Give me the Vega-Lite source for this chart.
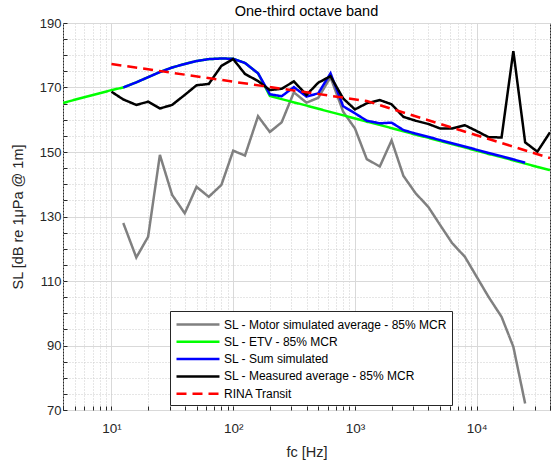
{
  "$schema": "https://vega.github.io/schema/vega-lite/v6.json",
  "autosize": {"type": "none"},
  "padding": {"left": 63, "top": 23, "right": 1, "bottom": 59},
  "width": 487,
  "height": 387,
  "background": "white",
  "title": {"text": "One-third octave band", "fontSize": 14.5, "fontWeight": "normal", "font": "Liberation Sans", "color": "#000000", "offset": -2, "frame": "group"},
  "config": {
    "view": {"stroke": "#262626", "strokeWidth": 1},
    "font": "Liberation Sans",
    "legend": {"orient": "none", "legendX": 107, "legendY": 288, "fillColor": "white", "strokeColor": "#262626", "padding": 5, "symbolType": "M-1,0H5.14", "symbolSize": 196, "symbolStrokeWidth": 2.5, "labelFontSize": 12, "labelColor": "#000000", "labelLimit": 400, "rowPadding": 2.3, "labelOffset": 32, "labelFont": "Liberation Sans"}
  },
  "data": {"values": [
    {"f": 12.5, "SL": 128, "s": "SL - Motor simulated average - 85% MCR"},
    {"f": 16, "SL": 117.3, "s": "SL - Motor simulated average - 85% MCR"},
    {"f": 20, "SL": 123.7, "s": "SL - Motor simulated average - 85% MCR"},
    {"f": 25, "SL": 149.1, "s": "SL - Motor simulated average - 85% MCR"},
    {"f": 31.5, "SL": 136.7, "s": "SL - Motor simulated average - 85% MCR"},
    {"f": 40, "SL": 131, "s": "SL - Motor simulated average - 85% MCR"},
    {"f": 50, "SL": 139.2, "s": "SL - Motor simulated average - 85% MCR"},
    {"f": 63, "SL": 136.1, "s": "SL - Motor simulated average - 85% MCR"},
    {"f": 80, "SL": 139.8, "s": "SL - Motor simulated average - 85% MCR"},
    {"f": 100, "SL": 150.4, "s": "SL - Motor simulated average - 85% MCR"},
    {"f": 125, "SL": 148.9, "s": "SL - Motor simulated average - 85% MCR"},
    {"f": 160, "SL": 161.1, "s": "SL - Motor simulated average - 85% MCR"},
    {"f": 200, "SL": 156.2, "s": "SL - Motor simulated average - 85% MCR"},
    {"f": 250, "SL": 159.2, "s": "SL - Motor simulated average - 85% MCR"},
    {"f": 315, "SL": 168.5, "s": "SL - Motor simulated average - 85% MCR"},
    {"f": 400, "SL": 165.3, "s": "SL - Motor simulated average - 85% MCR"},
    {"f": 500, "SL": 166.8, "s": "SL - Motor simulated average - 85% MCR"},
    {"f": 630, "SL": 173.2, "s": "SL - Motor simulated average - 85% MCR"},
    {"f": 800, "SL": 162.5, "s": "SL - Motor simulated average - 85% MCR"},
    {"f": 1000, "SL": 157.3, "s": "SL - Motor simulated average - 85% MCR"},
    {"f": 1250, "SL": 147.8, "s": "SL - Motor simulated average - 85% MCR"},
    {"f": 1600, "SL": 145.5, "s": "SL - Motor simulated average - 85% MCR"},
    {"f": 2000, "SL": 153.6, "s": "SL - Motor simulated average - 85% MCR"},
    {"f": 2500, "SL": 142.6, "s": "SL - Motor simulated average - 85% MCR"},
    {"f": 3150, "SL": 137.2, "s": "SL - Motor simulated average - 85% MCR"},
    {"f": 4000, "SL": 133, "s": "SL - Motor simulated average - 85% MCR"},
    {"f": 5000, "SL": 127.4, "s": "SL - Motor simulated average - 85% MCR"},
    {"f": 6300, "SL": 121.7, "s": "SL - Motor simulated average - 85% MCR"},
    {"f": 8000, "SL": 117.5, "s": "SL - Motor simulated average - 85% MCR"},
    {"f": 10000, "SL": 111.3, "s": "SL - Motor simulated average - 85% MCR"},
    {"f": 12500, "SL": 105.1, "s": "SL - Motor simulated average - 85% MCR"},
    {"f": 16000, "SL": 98.9, "s": "SL - Motor simulated average - 85% MCR"},
    {"f": 20000, "SL": 89.6, "s": "SL - Motor simulated average - 85% MCR"},
    {"f": 25000, "SL": 72, "s": "SL - Motor simulated average - 85% MCR"},

    {"f": 4, "SL": 165.2, "s": "SL - ETV - 85% MCR"},
    {"f": 5, "SL": 166.2, "s": "SL - ETV - 85% MCR"},
    {"f": 6.3, "SL": 167.2, "s": "SL - ETV - 85% MCR"},
    {"f": 8, "SL": 168.2, "s": "SL - ETV - 85% MCR"},
    {"f": 10, "SL": 169.2, "s": "SL - ETV - 85% MCR"},
    {"f": 12.5, "SL": 170, "s": "SL - ETV - 85% MCR"},
    {"f": 16, "SL": 171.6, "s": "SL - ETV - 85% MCR"},
    {"f": 20, "SL": 173.2, "s": "SL - ETV - 85% MCR"},
    {"f": 25, "SL": 174.8, "s": "SL - ETV - 85% MCR"},
    {"f": 31.5, "SL": 176.2, "s": "SL - ETV - 85% MCR"},
    {"f": 40, "SL": 177.3, "s": "SL - ETV - 85% MCR"},
    {"f": 50, "SL": 178.2, "s": "SL - ETV - 85% MCR"},
    {"f": 63, "SL": 178.8, "s": "SL - ETV - 85% MCR"},
    {"f": 80, "SL": 179, "s": "SL - ETV - 85% MCR"},
    {"f": 100, "SL": 178.9, "s": "SL - ETV - 85% MCR"},
    {"f": 125, "SL": 177.6, "s": "SL - ETV - 85% MCR"},
    {"f": 160, "SL": 174.4, "s": "SL - ETV - 85% MCR"},
    {"f": 200, "SL": 167.4, "s": "SL - ETV - 85% MCR"},
    {"f": 250, "SL": 166.4, "s": "SL - ETV - 85% MCR"},
    {"f": 315, "SL": 165.4, "s": "SL - ETV - 85% MCR"},
    {"f": 400, "SL": 164.4, "s": "SL - ETV - 85% MCR"},
    {"f": 500, "SL": 163.4, "s": "SL - ETV - 85% MCR"},
    {"f": 630, "SL": 162.4, "s": "SL - ETV - 85% MCR"},
    {"f": 800, "SL": 161.4, "s": "SL - ETV - 85% MCR"},
    {"f": 1000, "SL": 160.4, "s": "SL - ETV - 85% MCR"},
    {"f": 1250, "SL": 159.4, "s": "SL - ETV - 85% MCR"},
    {"f": 1600, "SL": 158.4, "s": "SL - ETV - 85% MCR"},
    {"f": 2000, "SL": 157.4, "s": "SL - ETV - 85% MCR"},
    {"f": 2500, "SL": 156.4, "s": "SL - ETV - 85% MCR"},
    {"f": 3150, "SL": 155.4, "s": "SL - ETV - 85% MCR"},
    {"f": 4000, "SL": 154.4, "s": "SL - ETV - 85% MCR"},
    {"f": 5000, "SL": 153.4, "s": "SL - ETV - 85% MCR"},
    {"f": 6300, "SL": 152.4, "s": "SL - ETV - 85% MCR"},
    {"f": 8000, "SL": 151.4, "s": "SL - ETV - 85% MCR"},
    {"f": 10000, "SL": 150.4, "s": "SL - ETV - 85% MCR"},
    {"f": 12500, "SL": 149.4, "s": "SL - ETV - 85% MCR"},
    {"f": 16000, "SL": 148.4, "s": "SL - ETV - 85% MCR"},
    {"f": 20000, "SL": 147.4, "s": "SL - ETV - 85% MCR"},
    {"f": 25000, "SL": 146.4, "s": "SL - ETV - 85% MCR"},
    {"f": 31500, "SL": 145.4, "s": "SL - ETV - 85% MCR"},
    {"f": 40000, "SL": 144.4, "s": "SL - ETV - 85% MCR"},

    {"f": 12.5, "SL": 170, "s": "SL - Sum simulated"},
    {"f": 16, "SL": 171.6, "s": "SL - Sum simulated"},
    {"f": 20, "SL": 173.2, "s": "SL - Sum simulated"},
    {"f": 25, "SL": 174.8, "s": "SL - Sum simulated"},
    {"f": 31.5, "SL": 176.2, "s": "SL - Sum simulated"},
    {"f": 40, "SL": 177.3, "s": "SL - Sum simulated"},
    {"f": 50, "SL": 178.2, "s": "SL - Sum simulated"},
    {"f": 63, "SL": 178.8, "s": "SL - Sum simulated"},
    {"f": 80, "SL": 179, "s": "SL - Sum simulated"},
    {"f": 100, "SL": 178.9, "s": "SL - Sum simulated"},
    {"f": 125, "SL": 177.6, "s": "SL - Sum simulated"},
    {"f": 160, "SL": 174.4, "s": "SL - Sum simulated"},
    {"f": 200, "SL": 167.9, "s": "SL - Sum simulated"},
    {"f": 250, "SL": 167.3, "s": "SL - Sum simulated"},
    {"f": 315, "SL": 170.1, "s": "SL - Sum simulated"},
    {"f": 400, "SL": 167.2, "s": "SL - Sum simulated"},
    {"f": 500, "SL": 168.2, "s": "SL - Sum simulated"},
    {"f": 630, "SL": 174.4, "s": "SL - Sum simulated"},
    {"f": 800, "SL": 164.2, "s": "SL - Sum simulated"},
    {"f": 1000, "SL": 162, "s": "SL - Sum simulated"},
    {"f": 1250, "SL": 159.7, "s": "SL - Sum simulated"},
    {"f": 1600, "SL": 158.9, "s": "SL - Sum simulated"},
    {"f": 2000, "SL": 159.1, "s": "SL - Sum simulated"},
    {"f": 2500, "SL": 156.8, "s": "SL - Sum simulated"},
    {"f": 3150, "SL": 155.7, "s": "SL - Sum simulated"},
    {"f": 4000, "SL": 154.7, "s": "SL - Sum simulated"},
    {"f": 5000, "SL": 153.7, "s": "SL - Sum simulated"},
    {"f": 6300, "SL": 152.7, "s": "SL - Sum simulated"},
    {"f": 8000, "SL": 151.7, "s": "SL - Sum simulated"},
    {"f": 10000, "SL": 150.7, "s": "SL - Sum simulated"},
    {"f": 12500, "SL": 149.7, "s": "SL - Sum simulated"},
    {"f": 16000, "SL": 148.7, "s": "SL - Sum simulated"},
    {"f": 20000, "SL": 147.7, "s": "SL - Sum simulated"},
    {"f": 25000, "SL": 146.7, "s": "SL - Sum simulated"},

    {"f": 10, "SL": 168.7, "s": "SL - Measured average - 85% MCR"},
    {"f": 12.5, "SL": 166.3, "s": "SL - Measured average - 85% MCR"},
    {"f": 16, "SL": 164.6, "s": "SL - Measured average - 85% MCR"},
    {"f": 20, "SL": 165.6, "s": "SL - Measured average - 85% MCR"},
    {"f": 25, "SL": 163.5, "s": "SL - Measured average - 85% MCR"},
    {"f": 31.5, "SL": 164.6, "s": "SL - Measured average - 85% MCR"},
    {"f": 40, "SL": 167.7, "s": "SL - Measured average - 85% MCR"},
    {"f": 50, "SL": 170.7, "s": "SL - Measured average - 85% MCR"},
    {"f": 63, "SL": 171.1, "s": "SL - Measured average - 85% MCR"},
    {"f": 80, "SL": 176.7, "s": "SL - Measured average - 85% MCR"},
    {"f": 100, "SL": 178.8, "s": "SL - Measured average - 85% MCR"},
    {"f": 125, "SL": 174.2, "s": "SL - Measured average - 85% MCR"},
    {"f": 160, "SL": 172, "s": "SL - Measured average - 85% MCR"},
    {"f": 200, "SL": 169.2, "s": "SL - Measured average - 85% MCR"},
    {"f": 250, "SL": 169.6, "s": "SL - Measured average - 85% MCR"},
    {"f": 315, "SL": 171.9, "s": "SL - Measured average - 85% MCR"},
    {"f": 400, "SL": 167.7, "s": "SL - Measured average - 85% MCR"},
    {"f": 500, "SL": 171.5, "s": "SL - Measured average - 85% MCR"},
    {"f": 630, "SL": 173.5, "s": "SL - Measured average - 85% MCR"},
    {"f": 800, "SL": 166.6, "s": "SL - Measured average - 85% MCR"},
    {"f": 1000, "SL": 163.2, "s": "SL - Measured average - 85% MCR"},
    {"f": 1250, "SL": 165.1, "s": "SL - Measured average - 85% MCR"},
    {"f": 1600, "SL": 166.1, "s": "SL - Measured average - 85% MCR"},
    {"f": 2000, "SL": 164.8, "s": "SL - Measured average - 85% MCR"},
    {"f": 2500, "SL": 160.9, "s": "SL - Measured average - 85% MCR"},
    {"f": 3150, "SL": 159.7, "s": "SL - Measured average - 85% MCR"},
    {"f": 4000, "SL": 158.7, "s": "SL - Measured average - 85% MCR"},
    {"f": 5000, "SL": 157.3, "s": "SL - Measured average - 85% MCR"},
    {"f": 6300, "SL": 157.3, "s": "SL - Measured average - 85% MCR"},
    {"f": 8000, "SL": 158.3, "s": "SL - Measured average - 85% MCR"},
    {"f": 10000, "SL": 156.5, "s": "SL - Measured average - 85% MCR"},
    {"f": 12500, "SL": 154.6, "s": "SL - Measured average - 85% MCR"},
    {"f": 16000, "SL": 154.5, "s": "SL - Measured average - 85% MCR"},
    {"f": 20000, "SL": 181.3, "s": "SL - Measured average - 85% MCR"},
    {"f": 25000, "SL": 153, "s": "SL - Measured average - 85% MCR"},
    {"f": 31500, "SL": 150.1, "s": "SL - Measured average - 85% MCR"},
    {"f": 40000, "SL": 156.1, "s": "SL - Measured average - 85% MCR"},

    {"f": 10, "SL": 177.3, "s": "RINA Transit"},
    {"f": 100, "SL": 171.8, "s": "RINA Transit"},
    {"f": 1250, "SL": 165.8, "s": "RINA Transit"},
    {"f": 40000, "SL": 148.1, "s": "RINA Transit"}
  ]},
  "mark": {"type": "line", "strokeWidth": 2.5, "clip": true},
  "encoding": {
    "x": {
      "field": "f", "type": "quantitative",
      "scale": {"type": "log", "domain": [4, 40000], "nice": false},
      "axis": {
        "values": [4,5,6,7,8,9,10,20,30,40,50,60,70,80,90,100,200,300,400,500,600,700,800,900,1000,2000,3000,4000,5000,6000,7000,8000,9000,10000,20000,30000,40000],
        "labelExpr": "datum.value == 10 ? '10¹' : datum.value == 100 ? '10²' : datum.value == 1000 ? '10³' : datum.value == 10000 ? '10⁴' : ''",
        "title": "fc [Hz]",
        "domain": false,
        "grid": true,
        "gridDash": {"condition": {"test": "indexof([10,100,1000,10000], datum.value) >= 0", "value": []}, "value": [1, 2]},
        "gridColor": {"condition": {"test": "indexof([10,100,1000,10000], datum.value) >= 0", "value": "#d9d9d9"}, "value": "#cccccc"},
        "tickColor": "#262626",
        "tickSize": -4,
        "labelFontSize": 13.5,
        "labelColor": "#262626",
        "labelPadding": 15,
        "labelFlush": false,
        "labelOverlap": false,
        "titleFontSize": 14.5,
        "titleFontWeight": "normal",
        "titleColor": "#262626",
        "titlePadding": 11
      }
    },
    "y": {
      "field": "SL", "type": "quantitative",
      "scale": {"domain": [70, 190], "nice": false, "zero": false},
      "axis": {
        "values": [70,75,80,85,90,95,100,105,110,115,120,125,130,135,140,145,150,155,160,165,170,175,180,185,190],
        "labelExpr": "datum.value % 20 == 10 ? datum.label : ''",
        "title": "SL [dB re 1μPa @ 1m]",
        "domain": false,
        "grid": true,
        "gridDash": {"condition": {"test": "datum.value % 20 == 10", "value": []}, "value": [1, 2]},
        "gridColor": {"condition": {"test": "datum.value % 20 == 10", "value": "#d9d9d9"}, "value": "#cccccc"},
        "tickColor": "#262626",
        "tickSize": -4,
        "labelFontSize": 13,
        "labelColor": "#262626",
        "labelPadding": 6,
        "labelOverlap": false,
        "labelFlush": false,
        "titleFontSize": 14.5,
        "titleFontWeight": "normal",
        "titleColor": "#262626",
        "titlePadding": 14
      }
    },
    "color": {
      "field": "s", "type": "nominal",
      "scale": {
        "domain": ["SL - Motor simulated average - 85% MCR", "SL - ETV - 85% MCR", "SL - Sum simulated", "SL - Measured average - 85% MCR", "RINA Transit"],
        "range": ["#808080", "#00ff00", "#0000ff", "#000000", "#ff0000"]
      },
      "legend": {"title": null}
    },
    "strokeDash": {
      "field": "s", "type": "nominal",
      "scale": {
        "domain": ["SL - Motor simulated average - 85% MCR", "SL - ETV - 85% MCR", "SL - Sum simulated", "SL - Measured average - 85% MCR", "RINA Transit"],
        "range": [[1, 0], [1, 0], [1, 0], [1, 0], [10, 6]]
      },
      "legend": {"title": null}
    }
  }
}
